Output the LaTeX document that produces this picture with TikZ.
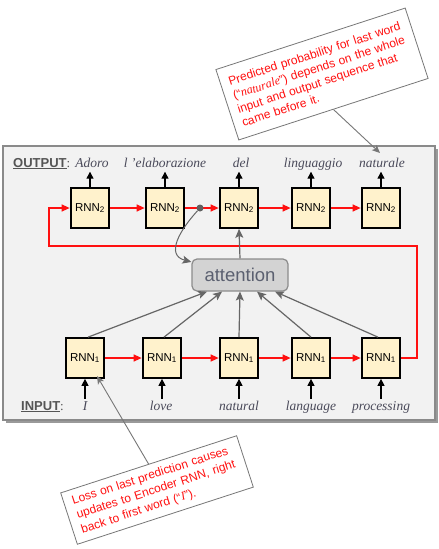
\documentclass[tikz,border=0pt]{standalone}
\usepackage{fontspec}
\setmainfont{Liberation Serif}
\setsansfont{Liberation Sans}
\usetikzlibrary{arrows.meta}
\definecolor{boxfill}{HTML}{FFF2CC}
\definecolor{panelfill}{HTML}{F2F2F2}
\definecolor{panelline}{HTML}{8A8A8A}
\definecolor{shadowgray}{HTML}{9A9A9A}
\definecolor{linegray}{HTML}{666666}
\definecolor{attfill}{HTML}{D3D3D3}
\definecolor{attline}{HTML}{8C8C8C}
\definecolor{atttext}{HTML}{5B6070}
\definecolor{wordgray}{HTML}{4A4A5A}
\definecolor{redline}{HTML}{FF1010}
\definecolor{labelgray}{HTML}{555555}
\definecolor{calloutline}{HTML}{777777}
\definecolor{dotgray}{HTML}{606060}
\begin{document}
\begin{tikzpicture}[x=1pt,y=-1pt,
  rnn/.style={draw=black, line width=2.2pt, fill=boxfill, minimum width=38.5pt, minimum height=39.5pt, inner sep=0pt, font=\sffamily\fontsize{11.5}{13}\selectfont},
  word/.style={anchor=base, inner sep=1pt, text height=10pt, text depth=3.5pt, font=\itshape\fontsize{13.5}{16}\selectfont, text=wordgray},
  tag/.style={anchor=base west, inner sep=0pt, font=\fontsize{13}{15}\selectfont, text=labelgray},
  redarrow/.style={draw=redline, line width=1.3pt, -{Triangle[length=8pt,width=7pt]}},
  grayarrow/.style={draw=linegray, line width=1.2pt, -{Stealth[length=9pt,width=8pt,inset=2pt]}},
  blackarrow/.style={draw=black, line width=1.2pt, -{Triangle[length=7pt,width=7pt]}},
  calloutarrow/.style={draw=calloutline, line width=0.9pt, -{Stealth[length=8pt,width=7pt,inset=2pt]}},
  callout/.style={draw=calloutline, fill=white, line width=0.8pt, rotate=18, inner xsep=8.5pt, inner ysep=2pt, align=left, text=redline},
  attbox/.style={draw=attline, fill=attfill, rounded corners=5pt, line width=1.2pt, minimum width=96pt, minimum height=32pt, font=\sffamily\fontsize{18.5}{20}\selectfont, text=atttext},
]
\useasboundingbox (0,0) rectangle (439,549);
\fill[white] (0,0) rectangle (439,549);
% panel
\fill[shadowgray] (6,149) rectangle (438,423);
\draw[draw=panelline, fill=panelfill, line width=1.5pt] (3,146) rectangle (435,420);

% labels
\node[tag] (outlab) at (13,167) {{\sffamily\bfseries\underline{OUTPUT}}:};
\node[tag] (inlab) at (21,410) {{\sffamily\bfseries\underline{INPUT}}:};

% output words
\node[word] (w1) at (92,167) {Adoro};
\node[word] (w2) at (165,167) {l 'elaborazione};
\node[word] (w3) at (241,167) {del};
\node[word] (w4) at (313,167) {linguaggio};
\node[word] (w5) at (382,167) {naturale};

% input words
\node[word] (v1) at (85,410) {I};
\node[word] (v2) at (161,410) {love};
\node[word] (v3) at (239,410) {natural};
\node[word] (v4) at (311,410) {language};
\node[word] (v5) at (381,410) {processing};

% decoder boxes
\node[rnn] (o1) at (90,208) {RNN\textsubscript{2}};
\node[rnn] (o2) at (165,208) {RNN\textsubscript{2}};
\node[rnn] (o3) at (239,208) {RNN\textsubscript{2}};
\node[rnn] (o4) at (311,208) {RNN\textsubscript{2}};
\node[rnn] (o5) at (381,208) {RNN\textsubscript{2}};

% encoder boxes
\node[rnn] (i1) at (85,358) {RNN\textsubscript{1}};
\node[rnn] (i2) at (162,358) {RNN\textsubscript{1}};
\node[rnn] (i3) at (239,358) {RNN\textsubscript{1}};
\node[rnn] (i4) at (311,358) {RNN\textsubscript{1}};
\node[rnn] (i5) at (381,358) {RNN\textsubscript{1}};

% attention
\node[attbox] (att) at (240,275) {attention};

% red recurrent arrows
\draw[redarrow] (o1) -- (o2);
\draw[redarrow] (o2) -- (o3);
\draw[redarrow] (o3) -- (o4);
\draw[redarrow] (o4) -- (o5);
\draw[redarrow] (i1) -- (i2);
\draw[redarrow] (i2) -- (i3);
\draw[redarrow] (i3) -- (i4);
\draw[redarrow] (i4) -- (i5);
\coordinate (lr) at (417,246);
\coordinate (ll) at (49,246);
\draw[redarrow] (i5.east) -| (lr) -- (ll) |- (o1.west);

% dot and curve into attention
\node[circle, fill=dotgray, inner sep=0pt, minimum size=7pt] (dot) at (200,208) {};
\draw[grayarrow, line width=1pt] (dot) .. controls (180,230) and (165,255) .. (att.165);

% attention to decoder
\draw[grayarrow] (att.north) -- (o3.south);

% encoder to attention
\draw[grayarrow] ([xshift=3pt]i1.north) -- ([xshift=-33pt]att.south);
\draw[grayarrow] ([xshift=2pt]i2.north) -- ([xshift=-18pt]att.south);
\draw[grayarrow] (i3.north) -- (att.south);
\draw[grayarrow] (i4.north) -- ([xshift=17pt]att.south);
\draw[grayarrow] ([xshift=-3pt]i5.north) -- ([xshift=35pt]att.south);

% output arrows
\draw[blackarrow] (o1.north) -- (o1.north |- w1.south);
\draw[blackarrow] (o2.north) -- (o2.north |- w1.south);
\draw[blackarrow] (o3.north) -- (o3.north |- w1.south);
\draw[blackarrow] (o4.north) -- (o4.north |- w1.south);
\draw[blackarrow] (o5.north) -- (o5.north |- w1.south);

% input arrows
\draw[blackarrow] (i1.south |- v1.north) -- (i1.south);
\draw[blackarrow] (i2.south |- v1.north) -- (i2.south);
\draw[blackarrow] (i3.south |- v1.north) -- (i3.south);
\draw[blackarrow] (i4.south |- v1.north) -- (i4.south);
\draw[blackarrow] (i5.south |- v1.north) -- (i5.south);

% callouts
\node[callout, text width=182pt, minimum height=74pt, font=\sffamily\fontsize{12}{14.5}\selectfont] (c1) at (322,74)
  {Predicted probability for last word\\(“{\rmfamily\itshape naturale}”) depends on the whole\\input and output sequence that\\came before it.};
\node[callout, text width=168pt, minimum height=54pt, font=\sffamily\fontsize{12}{15}\selectfont] (c2) at (157,490)
  {Loss on last prediction causes\\updates to Encoder RNN, right\\back to first word (“{\rmfamily\itshape I}”).};
\coordinate (c1end) at (380,153);
\coordinate (c2end) at (97,376);
\draw[calloutarrow] (c1.south) -- (c1end);
\draw[calloutarrow] (c2.north) -- (c2end);
\end{tikzpicture}
\end{document}
